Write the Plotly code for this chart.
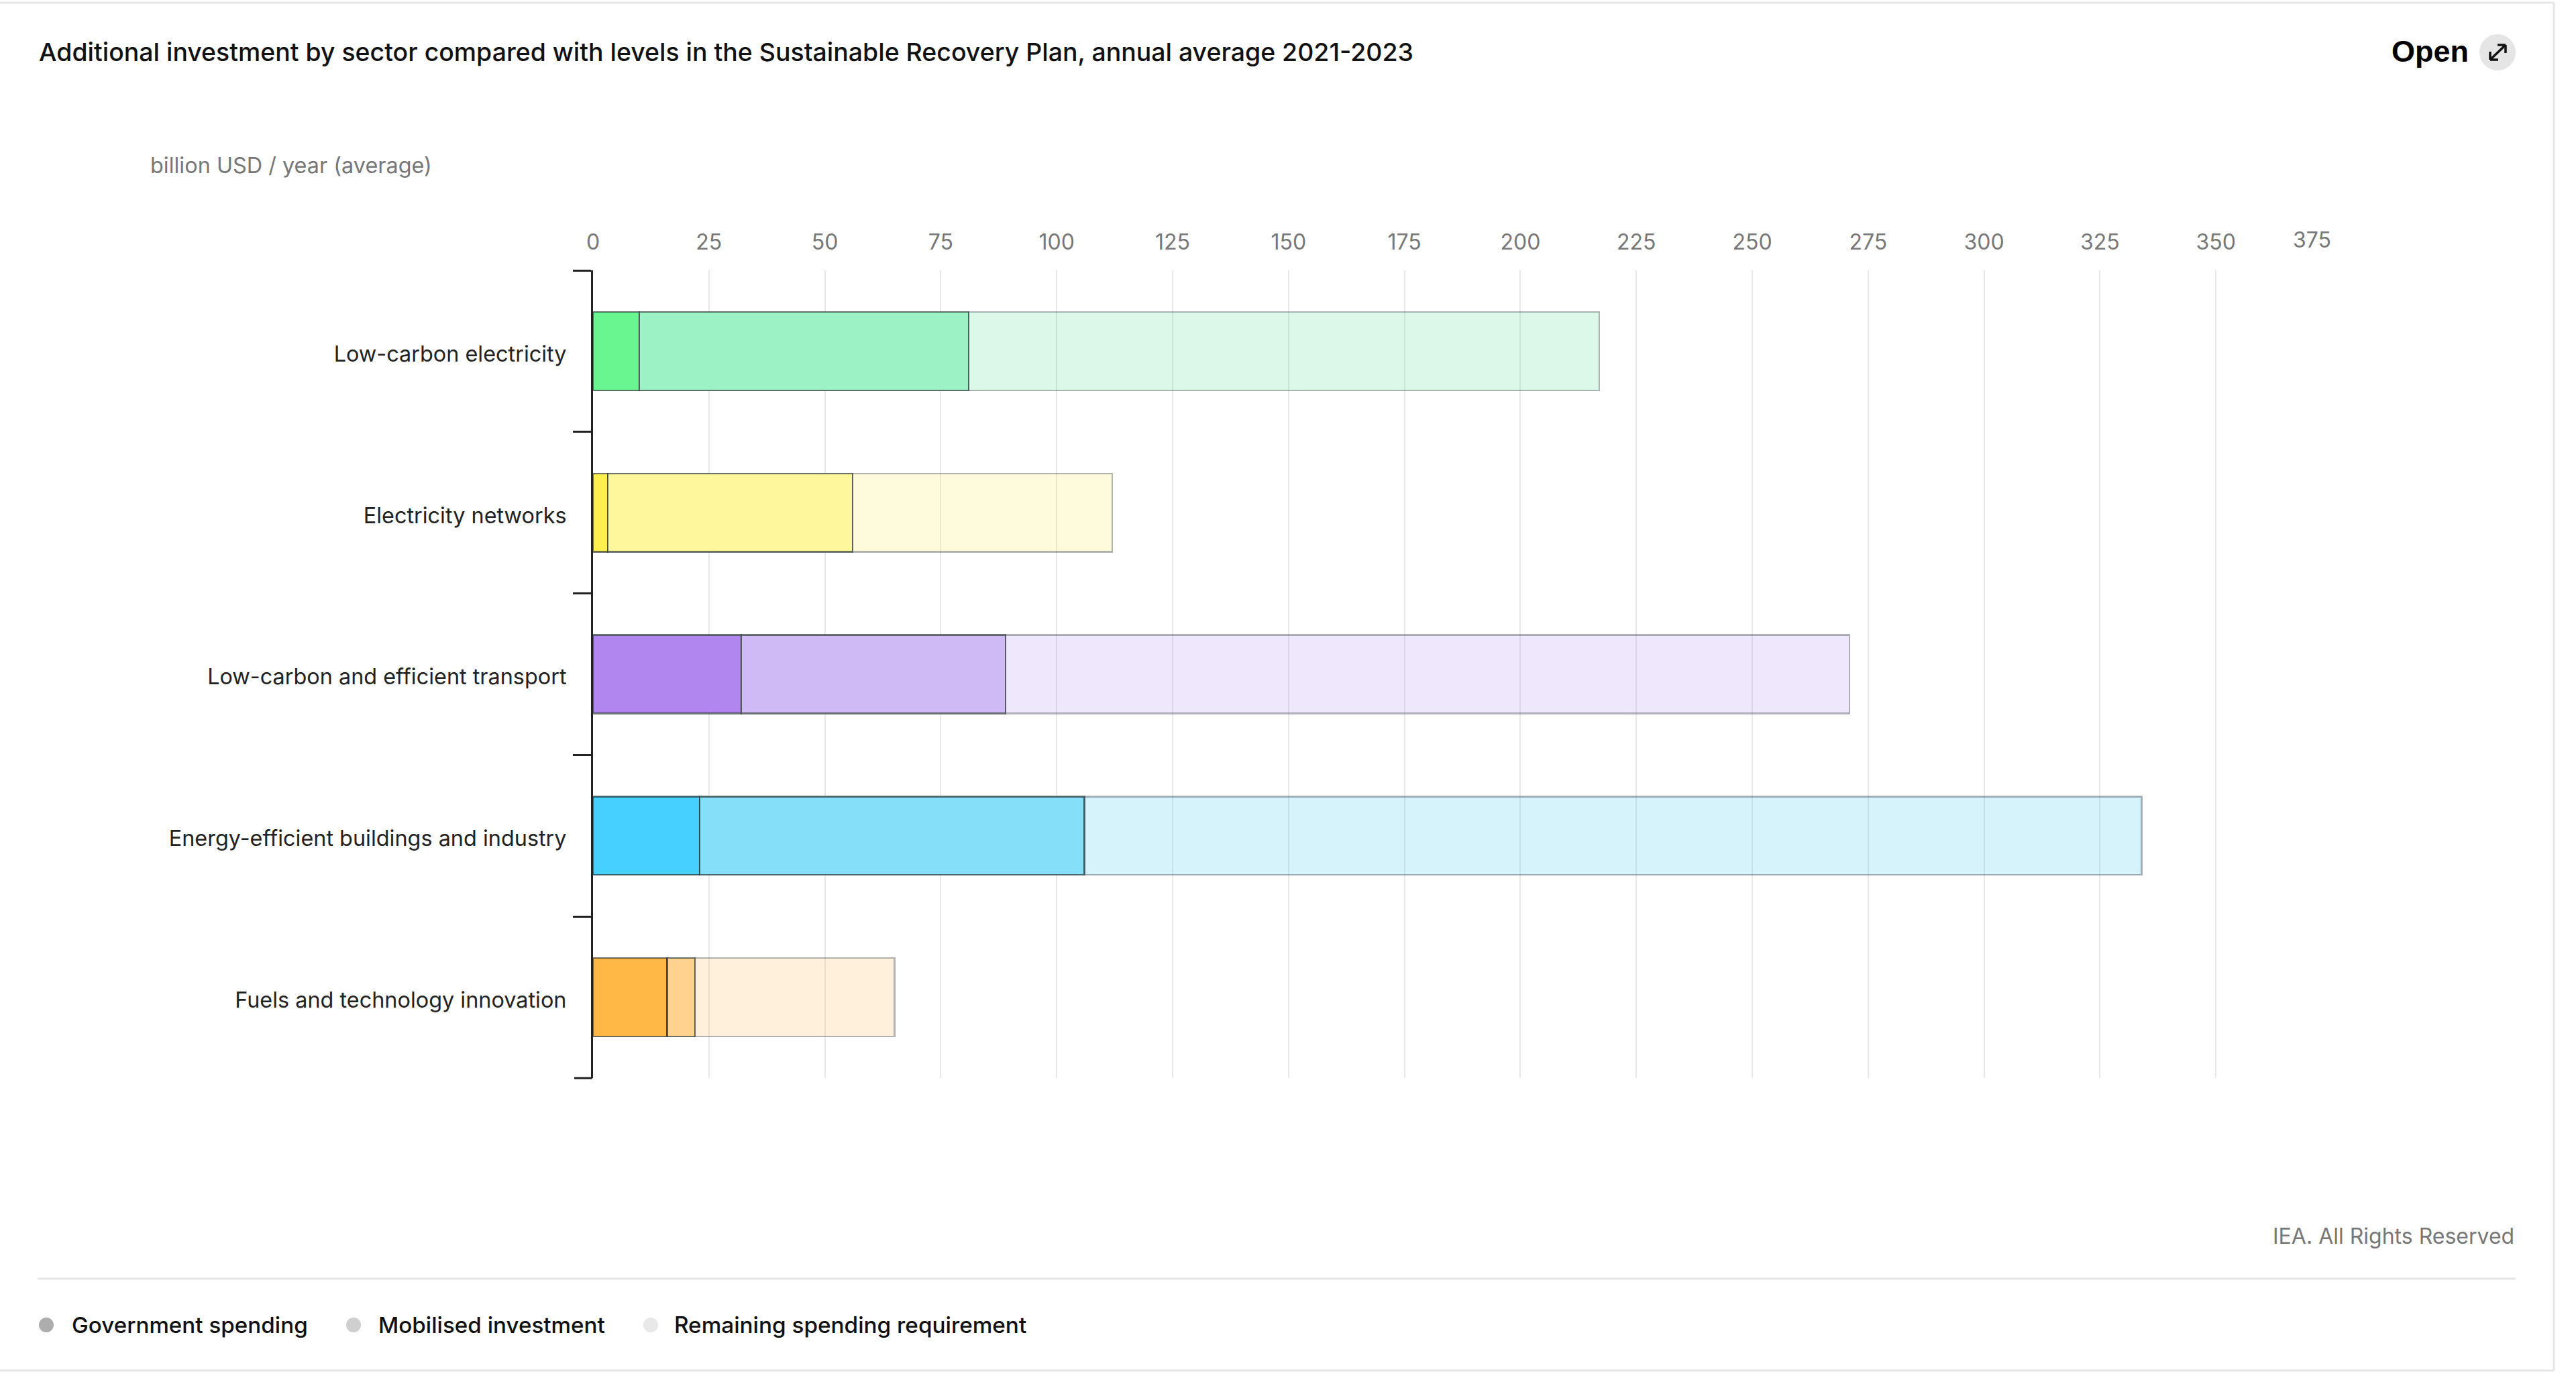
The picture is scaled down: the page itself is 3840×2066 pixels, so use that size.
import plotly.graph_objects as go

categories = ["Low-carbon electricity", "Electricity networks", "Low-carbon and efficient transport",
              "Energy-efficient buildings and industry", "Fuels and technology innovation"]
government = [10, 3.2, 32, 23, 16]
mobilised = [71, 52.8, 57, 83, 6]
remaining = [136, 56, 182, 228, 43]
tick_values = [0, 25, 50, 75, 100, 125, 150, 175, 200, 225, 250, 275, 300, 325, 350, 375]

gov_colors = ["#69F58F", "#FFF04F", "#B286EF", "#45D0FF", "#FFB745"]
mob_colors = ["#9CF2C4", "#FEF79C", "#D0BAF5", "#86DFF8", "#FFD38F"]
rem_colors = ["rgba(80,220,140,0.2)", "rgba(250,235,80,0.2)", "rgba(160,110,230,0.17)",
              "rgba(50,195,240,0.2)", "rgba(255,180,80,0.2)"]

W, H = 3840, 2066
def px(v): return v / W
def py(v): return 1 - v / H

FONT = "Inter"
fig = go.Figure()
fig.add_bar(name="Government spending", y=categories, x=government, orientation="h",
            marker=dict(color=gov_colors, line=dict(color="rgba(40,50,50,0.68)", width=2.5)))
fig.add_bar(name="Mobilised investment", y=categories, x=mobilised, orientation="h",
            marker=dict(color=mob_colors, line=dict(color="rgba(40,50,50,0.68)", width=2.5)))
fig.add_bar(name="Remaining spending requirement", y=categories, x=remaining, orientation="h",
            marker=dict(color=rem_colors, line=dict(color="rgba(60,70,80,0.4)", width=2.5)))

shapes = []
def line(x0, y0, x1, y1, color="#E6E6E6", width=3):
    shapes.append(dict(type="line", xref="paper", yref="paper", x0=px(x0), y0=py(y0), x1=px(x1), y1=py(y1),
                       line=dict(color=color, width=width), layer="below"))
line(0, 4, 3807, 4); line(3807, 4, 3807, 2043); line(0, 2043, 3807, 2043); line(56, 1906, 3750, 1906)
line(856, 1607, 883, 1607, "#222222", 3)

def circle(cx, cy, r, color):
    shapes.append(dict(type="circle", xref="paper", yref="paper", x0=px(cx - r), x1=px(cx + r),
                       y0=py(cy - r), y1=py(cy + r), fillcolor=color, line=dict(width=0), layer="below"))
circle(69, 1975, 11, "#ADADAD"); circle(527, 1975, 11, "#CFCFCF"); circle(970, 1975, 11, "#E8E8E8")
circle(3723, 78, 27, "#E5E5E5")
# expand icon
for a in [(3712, 89, 3735, 67), (3712, 89, 3712, 77), (3712, 89, 3724, 89), (3735, 67, 3723, 67), (3735, 67, 3735, 79)]:
    shapes.append(dict(type="line", xref="paper", yref="paper", x0=px(a[0]), y0=py(a[1]), x1=px(a[2]), y1=py(a[3]),
                       line=dict(color="#111111", width=3.5)))

def text(x, y, s, size, color, anchor="left", weight=400, family=FONT):
    return dict(xref="paper", yref="paper", x=px(x), y=py(y), text=s, showarrow=False, xanchor=anchor,
                yanchor="middle", font=dict(family=family, size=size, color=color, weight=weight))

annotations = [
    text(56, 77, "Additional investment by sector compared with levels in the Sustainable Recovery Plan, annual average 2021-2023", 37.45, "#111111", weight=500),
    text(222, 246, "billion USD / year (average)", 32.4, "#777777"),
    text(3682, 76, "Open", 45, "#000000", "right", 700, "Liberation Sans"),
    text(3750, 1842, "IEA. All Rights Reserved", 32, "#777777", "right"),
    text(105, 1975, "Government spending", 33.2, "#111111", weight=500),
    text(562, 1975, "Mobilised investment", 33.2, "#111111", weight=500),
    text(1003, 1975, "Remaining spending requirement", 33.3, "#111111", weight=500),
    dict(xref="x", yref="paper", x=375, xshift=-30, y=py(357), text="375", showarrow=False, xanchor="center",
         yanchor="middle", font=dict(family=FONT, size=32, color="#777777")),
]

fig.update_layout(
    width=W, height=H, barmode="stack", bargap=0.515, showlegend=False,
    paper_bgcolor="white", plot_bgcolor="white", margin=dict(l=0, r=0, t=0, b=0, pad=0, autoexpand=False),
    font=dict(family=FONT), shapes=shapes, annotations=annotations,
    xaxis=dict(domain=[884 / W, 3476 / W], range=[0, 375], side="top", tickvals=tick_values, automargin=False,
               ticktext=[str(v) if v != 375 else "" for v in tick_values], showgrid=True, gridcolor="#E8E8E8",
               gridwidth=2, zeroline=False, showline=False, ticks="", ticklabelstandoff=24,
               tickfont=dict(family=FONT, size=32, color="#777777"), anchor="y"),
    yaxis=dict(domain=[1 - 1607 / H, 1 - 403 / H], type="category", categoryorder="array", automargin=False,
               categoryarray=categories, autorange="reversed", tickson="boundaries", ticks="outside",
               ticklen=27, tickwidth=3, tickcolor="#222222", showline=True, linecolor="#222222", linewidth=3,
               showgrid=False, ticklabelstandoff=30, ticklabelshift=-4,
               tickfont=dict(family=FONT, size=32.4, color="#222222"), anchor="x"),
)
fig.write_html("out.html", config=dict(displayModeBar=False))
with open("out.html", encoding="utf-8") as f:
    page = f.read()
css = ("<style>html,body{margin:0!important;padding:0!important;overflow:hidden}"
       "body>div{position:absolute;left:0;top:0}</style>")
page = page.replace("</head>", css + "</head>", 1) if "</head>" in page else css + page
with open("out.html", "w", encoding="utf-8") as f:
    f.write(page)
